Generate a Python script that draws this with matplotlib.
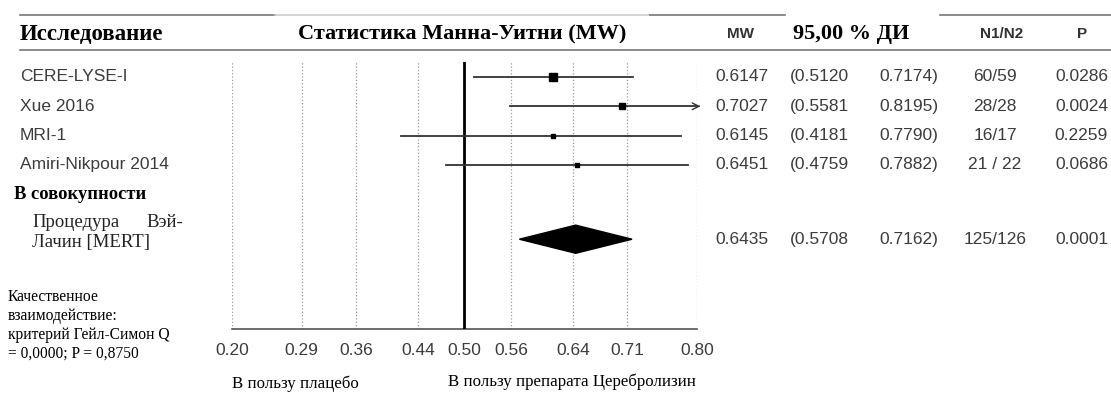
import matplotlib
matplotlib.use('Agg')
import matplotlib.pyplot as plt
import matplotlib.transforms as mtransforms
from matplotlib.lines import Line2D
from matplotlib.patches import Polygon

# Data
studies = ['CERE-LYSE-I', 'Xue 2016', 'MRI-1', 'Amiri-Nikpour 2014']
mw = [0.6147, 0.7027, 0.6145, 0.6451]
ci_lo = [0.5120, 0.5581, 0.4181, 0.4759]
ci_hi = [0.7174, 0.8195, 0.7790, 0.7882]
n1n2 = ['60/59', '28/28', '16/17', '21 / 22']
p_vals = ['0.0286', '0.0024', '0.2259', '0.0686']

pooled_mw = 0.6435
pooled_lo = 0.5708
pooled_hi = 0.7162
pooled_n = '125/126'
pooled_p = '0.0001'

x_ticks = [0.20, 0.29, 0.36, 0.44, 0.50, 0.56, 0.64, 0.71, 0.80]

W, H = 1111, 397
SERIF = 'Liberation Serif'
SANS = 'Liberation Sans'
GREY = '#3c3c3c'

fig = plt.figure(figsize=(W / 100, H / 100), dpi=100)
fig.patch.set_facecolor('white')


def fx(px):
    return px / W


def fy(py):
    return 1 - py / H


# Forest plot axes (pixel box 232..697 x 62..329)
ax = fig.add_axes([fx(232), fy(329), fx(697) - fx(232), fy(62) - fy(329)])
ax.set_xlim(x_ticks[0], x_ticks[-1])
ax.set_ylim(8.59, -0.51)
for side in ('top', 'right', 'left'):
    ax.spines[side].set_visible(False)
ax.spines['bottom'].set_color('#555555')
ax.spines['bottom'].set_linewidth(1.2)
ax.set_yticks([])
ax.set_xticks(x_ticks)
ax.set_xticklabels([f'{t:.2f}' for t in x_ticks], family=SANS, fontsize=12.5, color=GREY)
ax.tick_params(axis='x', length=0, pad=10)
ax.xaxis.grid(True, linestyle=':', color='#9a9a9a', linewidth=0.9)
ax.axvline(0.5, color='black', linewidth=2.0, zorder=3)

# Study rows (box size ~ inverse of CI width)
xmax = x_ticks[-1]
for i, name in enumerate(studies):
    hi = min(ci_hi[i], xmax)
    ax.plot([ci_lo[i], hi], [i, i], color='#333333', linewidth=1.3, zorder=4)
    if ci_hi[i] > xmax:
        ax.annotate('', xy=(xmax + 0.008, i), xytext=(xmax - 0.001, i),
                    arrowprops=dict(arrowstyle='->', color='#333333', lw=1.0,
                                    mutation_scale=12), annotation_clip=False)
    ax.plot(mw[i], i, marker='s', color='black', linestyle='none',
            markersize=1.05 / (ci_hi[i] - ci_lo[i]), zorder=5)

# Pooled diamond
yd = 5.53
ax.add_patch(Polygon([(pooled_lo, yd), (pooled_mw, yd - 0.48),
                      (pooled_hi, yd), (pooled_mw, yd + 0.48)],
                     closed=True, color='black', zorder=5))

# Texts in figure x / data y
tr = mtransforms.blended_transform_factory(fig.transFigure, ax.transData)


def row_text(px, y, s, ha='left', **kw):
    ax.text(fx(px), y, s, transform=tr, ha=ha, va='center', clip_on=False, **kw)


sans_kw = dict(family=SANS, fontsize=12.5, color=GREY)
for i, name in enumerate(studies):
    row_text(20, i, name, **sans_kw)
    row_text(715, i, f'{mw[i]:.4f}', **sans_kw)
    row_text(790, i, f'({ci_lo[i]:.4f}', **sans_kw)
    row_text(938, i, f'{ci_hi[i]:.4f})', ha='right', **sans_kw)
    row_text(995, i, n1n2[i], ha='center', **sans_kw)
    row_text(1108, i, p_vals[i], ha='right', **sans_kw)

row_text(14, 4, 'В совокупности', family=SERIF, fontsize=13.3, fontweight='bold', color='black')
row_text(32, 4.95, 'Процедура', family=SERIF, fontsize=13.5, color='#222222')
row_text(183, 4.95, 'Вэй-', ha='right', family=SERIF, fontsize=13.5, color='#222222')
row_text(32, 5.63, 'Лачин [MERT]', family=SERIF, fontsize=13.5, color='#222222')

row_text(715, yd, f'{pooled_mw:.4f}', **sans_kw)
row_text(790, yd, f'({pooled_lo:.4f}', **sans_kw)
row_text(938, yd, f'{pooled_hi:.4f})', ha='right', **sans_kw)
row_text(995, yd, pooled_n, ha='center', **sans_kw)
row_text(1108, yd, pooled_p, ha='right', **sans_kw)

# Header
head_y = fy(34)
fig.text(fx(20), head_y, 'Исследование', family=SERIF, fontsize=16.5, fontweight='bold', va='center')
fig.text(fx(462), head_y, 'Статистика Манна-Уитни (MW)', family=SERIF, fontsize=16,
         fontweight='bold', va='center', ha='center')
fig.text(fx(740), head_y, 'MW', family=SANS, fontsize=11, fontweight='bold', va='center',
         ha='center', color='#333333')
fig.text(fx(851), head_y, '95,00 % ДИ', family=SERIF, fontsize=16, fontweight='bold',
         va='center', ha='center')
fig.text(fx(1002), head_y, 'N1/N2', family=SANS, fontsize=11, fontweight='bold', va='center',
         ha='center', color='#333333')
fig.text(fx(1082), head_y, 'P', family=SANS, fontsize=11, fontweight='bold', va='center',
         ha='center', color='#333333')

for x0, x1, c in [(20, 275, '#777777'), (275, 650, '#cccccc'), (650, 785, '#777777'),
                  (940, 1111, '#777777')]:
    fig.add_artist(Line2D([fx(x0), fx(x1)], [fy(15), fy(15)], color=c, linewidth=1.2))
fig.add_artist(Line2D([fx(20), fx(1111)], [fy(50), fy(50)], color='#777777', linewidth=1.2))

# Heterogeneity note
note = ['Качественное', 'взаимодействие:', 'критерий Гейл-Симон Q', '= 0,0000; P = 0,8750']
for k, line in enumerate(note):
    fig.text(fx(8), fy(297 + 19 * k), line, family=SERIF, fontsize=11.2, va='center')

# Direction labels
fig.text(fx(232), fy(384), 'В пользу плацебо', family=SERIF, fontsize=12.2, va='center')
fig.text(fx(448), fy(382), 'В пользу препарата Церебролизин', family=SERIF, fontsize=12.2,
         va='center')

fig.savefig('out.png', dpi=100, facecolor='white')
